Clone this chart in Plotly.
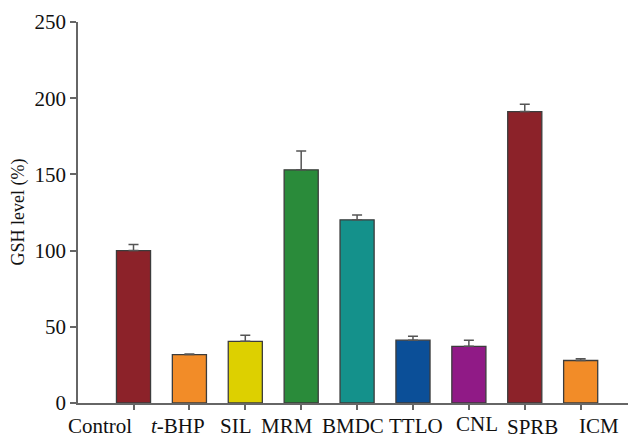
import plotly.graph_objects as go

categories = ["Control", "<i>t</i>-BHP", "SIL", "MRM", "BMDC", "TTLO", "CNL", "SPRB", "ICM"]
values = [100, 31.8, 40.5, 153, 120.2, 41.2, 37.2, 191.2, 27.9]
errors = [4, 0.4, 3.9, 12.3, 3.1, 2.6, 4.0, 4.8, 1.1]
colors = ["#8C2229", "#F28C28", "#DDD000", "#2A8B3A", "#14918B",
          "#0B4F98", "#901A86", "#8C2229", "#F28C28"]
label_xshift = [-34, -11, -9, -14, -4, 3, 8, 8, 18]
label_yshift = [-23, -23, -23, -23, -23, -23, -21, -24, -23]
y_ticks = [0, 50, 100, 150, 200, 250]

xs = list(range(len(categories)))

fig = go.Figure()
fig.add_trace(go.Bar(
    x=xs, y=values, width=0.61,
    marker=dict(color=colors, line=dict(color="#3c3c3c", width=1.3)),
    error_y=dict(type="data", array=errors, arrayminus=[0]*len(errors),
                 symmetric=False, color="#555555", thickness=1.5, width=5),
    showlegend=False,
))

font_fam = "Liberation Serif"

for i, c in enumerate(categories):
    fig.add_annotation(x=xs[i], y=0, xref="x", yref="y", text=c, showarrow=False,
                       xanchor="center", yanchor="middle",
                       xshift=label_xshift[i], yshift=label_yshift[i],
                       font=dict(family=font_fam, size=21, color="#111111"))

fig.add_annotation(x=-0.1075, y=0.5, xref="paper", yref="paper", text="GSH level (%)",
                   textangle=-90, showarrow=False, xanchor="center", yanchor="middle",
                   font=dict(family=font_fam, size=18, color="#111111"))

# page body adds an 8px offset; figure sized so the plot lands where the reference has it
fig.update_layout(
    width=628, height=430,
    margin=dict(l=70, r=0, t=14, b=35),
    plot_bgcolor="white", paper_bgcolor="white",
    font=dict(family=font_fam),
)
fig.update_xaxes(range=[-0.993, 8.99], tickvals=xs, ticktext=[""]*len(xs),
                 showline=True, linecolor="#666666", linewidth=1.5,
                 ticks="outside", ticklen=5, tickcolor="#666666", tickwidth=1.5,
                 showgrid=False, zeroline=False)
fig.update_yaxes(range=[0, 250], tickvals=y_ticks,
                 showline=True, linecolor="#666666", linewidth=1.5,
                 ticks="outside", ticklen=6, tickcolor="#666666", tickwidth=1.5,
                 showgrid=False, zeroline=False,
                 tickfont=dict(family=font_fam, size=21, color="#111111"))

fig.write_html("out.html")
